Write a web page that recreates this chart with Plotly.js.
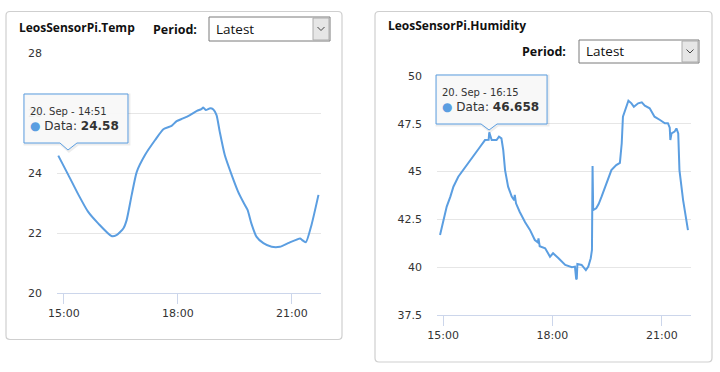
<!DOCTYPE html>
<html>
<head>
<meta charset="utf-8">
<script src="https://cdn.plot.ly/plotly-3.0.1.min.js"></script>
<style>
  html, body { margin: 0; padding: 0; background: #ffffff; }
  #chart { width: 720px; height: 372px; }
</style>
</head>
<body>
<div id="chart"></div>
<script>
// ---- Data ----
const day = '2023-09-20 ';

const tempTitle = 'LeosSensorPi.Temp';
const tempTimes = ['14:51','15:07','15:23','15:38','15:54','16:15','16:23','16:34','16:39','16:47',
  '16:55','17:08','17:24','17:37','17:50','17:58','18:08','18:19','18:30','18:37',
  '18:40','18:44','18:51','18:56','19:01','19:06','19:14','19:25','19:35','19:43',
  '19:50','19:56','20:04','20:15','20:28','20:41','20:54','21:13','21:16','21:22',
  '21:31','21:42'];
const tempValues = [24.58,23.93,23.27,22.71,22.32,21.9,21.93,22.16,22.43,23.27,
  24.04,24.6,25.1,25.46,25.57,25.73,25.82,25.93,26.07,26.13,
  26.18,26.1,26.16,26.12,25.93,25.38,24.6,23.93,23.38,23.04,
  22.77,22.32,21.88,21.66,21.54,21.54,21.66,21.82,21.77,21.69,
  22.27,23.27];
const tempTicks = [20, 22, 24, 26, 28];

const humTitle = 'LeosSensorPi.Humidity';
const humTimes = ['14:55','14:58','15:00','15:06','15:12','15:17','15:25','15:31','15:39','15:44',
  '15:53','16:01','16:09','16:15','16:16','16:20','16:28','16:32','16:36','16:39',
  '16:42','16:47','16:53','16:57','16:58','17:00','17:06','17:15','17:23','17:31',
  '17:36','17:37','17:39','17:48','17:56','18:01','18:10','18:21','18:32','18:37',
  '18:39','18:40','18:41','18:48','18:55','18:59','19:03','19:05','19:06','19:07',
  '19:12','19:16','19:21','19:26','19:32','19:37','19:45','19:51','19:54','19:56',
  '20:05','20:10','20:14','20:21','20:27','20:32','20:40','20:48','20:57','21:05',
  '21:10','21:13','21:14','21:16','21:21','21:24','21:27','21:29','21:35','21:43'];
const humValues = [41.68,42.12,42.38,43.17,43.69,44.21,44.73,45.0,45.35,45.6,
  45.96,46.3,46.65,46.658,47.05,46.65,46.65,46.83,46.74,46.13,
  45.08,44.21,43.69,43.5,43.78,43.34,42.9,42.35,41.95,41.42,
  41.3,41.51,41.1,40.99,40.55,40.73,40.47,40.12,40.0,40.03,
  39.4,39.37,40.17,40.12,39.85,40.03,40.47,40.9,45.29,42.99,
  43.08,43.3,43.7,44.13,44.65,45.08,45.34,45.46,46.48,47.87,
  48.71,48.57,48.39,48.57,48.62,48.45,48.31,47.87,47.7,47.53,
  47.53,47.3,46.65,47.0,47.09,47.26,47.0,45.08,43.51,41.94];
const humTicks = [37.5, 40, 42.5, 45, 47.5, 50];

const xTicks = ['15:00', '18:00', '21:00'];
const periodLabel = 'Period:';
const periodValue = 'Latest';

// tooltips: index of the hovered point in each series
const tempTipIndex = 0;
const humTipIndex = 13;
const tipHeader = '20. Sep - ';
const seriesName = 'Data';

// ---- Styling helpers ----
const W = 720, H = 372;
const px = v => v / W;
const py = v => 1 - v / H;
const lineColor = '#5b9ee1';
const font = 'DejaVu Sans, sans-serif';
const titleFont = 'Open Sans, DejaVu Sans, sans-serif';

function roundRect(x0, y0, x1, y1, r) {
  const X = px, Y = py;
  return `M ${X(x0 + r)} ${Y(y0)} L ${X(x1 - r)} ${Y(y0)} Q ${X(x1)} ${Y(y0)} ${X(x1)} ${Y(y0 + r)} ` +
    `L ${X(x1)} ${Y(y1 - r)} Q ${X(x1)} ${Y(y1)} ${X(x1 - r)} ${Y(y1)} ` +
    `L ${X(x0 + r)} ${Y(y1)} Q ${X(x0)} ${Y(y1)} ${X(x0)} ${Y(y1 - r)} ` +
    `L ${X(x0)} ${Y(y0 + r)} Q ${X(x0)} ${Y(y0)} ${X(x0 + r)} ${Y(y0)} Z`;
}

const shapes = [];
const annotations = [];

// Panels
shapes.push({type: 'path', xref: 'paper', yref: 'paper', path: roundRect(6, 11.5, 342, 339.5, 4),
  line: {color: '#cfcfcf', width: 1.2}, fillcolor: 'rgba(0,0,0,0)', layer: 'below'});
shapes.push({type: 'path', xref: 'paper', yref: 'paper', path: roundRect(375, 11.5, 712, 362, 4),
  line: {color: '#cfcfcf', width: 1.2}, fillcolor: 'rgba(0,0,0,0)', layer: 'below'});

// Titles
annotations.push({xref: 'paper', yref: 'paper', x: px(17), y: py(27), xanchor: 'left', yanchor: 'middle',
  text: '<b>' + tempTitle + '</b>', showarrow: false, font: {family: titleFont, size: 12, color: '#111'}});
annotations.push({xref: 'paper', yref: 'paper', x: px(386), y: py(26), xanchor: 'left', yanchor: 'middle',
  text: '<b>' + humTitle + '</b>', showarrow: false, font: {family: titleFont, size: 12, color: '#111'}});

// Period selectors
function selector(labelRight, labelY, bx0, by0, bx1, by1) {
  annotations.push({xref: 'paper', yref: 'paper', x: px(labelRight), y: py(labelY), xanchor: 'right', yanchor: 'middle',
    text: '<b>' + periodLabel + '</b>', showarrow: false, font: {family: titleFont, size: 12.5, color: '#111'}});
  shapes.push({type: 'rect', xref: 'paper', yref: 'paper', x0: px(bx0), x1: px(bx1), y0: py(by1), y1: py(by0),
    fillcolor: '#ffffff', line: {color: '#7a7a7a', width: 1}});
  shapes.push({type: 'rect', xref: 'paper', yref: 'paper', x0: px(bx1 - 17), x1: px(bx1 - 1), y0: py(by1 - 1), y1: py(by0 + 1),
    fillcolor: '#e6e6e6', line: {color: '#acacac', width: 1}});
  const cx = bx1 - 9, cy = (by0 + by1) / 2;
  shapes.push({type: 'path', xref: 'paper', yref: 'paper',
    path: `M ${px(cx - 3.5)} ${py(cy - 2)} L ${px(cx)} ${py(cy + 1.5)} L ${px(cx + 3.5)} ${py(cy - 2)}`,
    line: {color: '#444', width: 1}});
  annotations.push({xref: 'paper', yref: 'paper', x: px(bx0 + 5), y: py(cy), xanchor: 'left', yanchor: 'middle',
    text: periodValue, showarrow: false, font: {family: titleFont, size: 13.5, color: '#111'}});
}
selector(199, 29, 209, 17, 330, 41);
selector(568, 52, 579, 40, 699, 63);

// Tooltip definitions (pixel offsets relative to the hovered point, y up)
const tips = [
  {xa: 'xaxis', ya: 'yaxis', xr: 'x', yr: 'y', t: tempTimes[tempTipIndex], v: tempValues[tempTipIndex],
   box: [-34.3, 69.7, 61.6, 12.6, 1.7, 18.7, 9.7, 5.6]},
  {xa: 'xaxis2', ya: 'yaxis2', xr: 'x2', yr: 'y2', t: humTimes[humTipIndex], v: humValues[humTipIndex],
   box: [-52.6, 58.4, 64.9, 15.9, -7.6, 8.4, 0.4, 9.9]}
];

tips.forEach(tp => {
  const l = tp.box[0], top = tp.box[2];
  annotations.push({xref: tp.xr, yref: tp.yr, x: day + tp.t, y: tp.v, xanchor: 'left', yanchor: 'middle',
    xshift: l + 4, yshift: top - 17, showarrow: false, text: tipHeader + tp.t,
    font: {family: font, size: 10, color: '#333'}});
  annotations.push({xref: tp.xr, yref: tp.yr, x: day + tp.t, y: tp.v, xanchor: 'left', yanchor: 'middle',
    xshift: l + 4, yshift: top - 32, showarrow: false,
    text: '<span style="color:' + lineColor + '">●</span> ' + seriesName + ': <b>' + String(tp.v) + '</b>',
    font: {family: font, size: 12, color: '#333'}});
});

const traces = [
  {type: 'scatter', mode: 'lines', x: tempTimes.map(t => day + t), y: tempValues, xaxis: 'x', yaxis: 'y',
    line: {color: lineColor, width: 2, shape: 'spline', smoothing: 0.6}, hoverinfo: 'skip'},
  {type: 'scatter', mode: 'lines', x: humTimes.map(t => day + t), y: humValues, xaxis: 'x2', yaxis: 'y2',
    line: {color: lineColor, width: 2}, hoverinfo: 'skip'}
];

function xAxis(domain, r0, r1, anchor) {
  return {domain: domain, type: 'date', range: [day + r0, day + r1], anchor: anchor,
    tickmode: 'array', tickvals: xTicks.map(t => day + t), ticktext: xTicks,
    ticks: 'outside', ticklen: 10, tickcolor: '#ccd6eb', tickwidth: 1,
    showline: true, linecolor: '#ccd6eb', linewidth: 1, showgrid: false, zeroline: false,
    tickfont: {family: font, size: 11, color: '#333'}, fixedrange: true};
}
function yAxis(domain, range, ticks, anchor) {
  return {domain: domain, range: range, anchor: anchor, tickmode: 'array', tickvals: ticks,
    ticktext: ticks.map(String), showgrid: true, gridcolor: '#e6e6e6', gridwidth: 1,
    zeroline: false, showline: false, ticks: '', ticklabelstandoff: 14,
    tickfont: {family: font, size: 11, color: '#333'}, fixedrange: true};
}

const layout = {
  width: W, height: H, margin: {l: 0, r: 0, t: 0, b: 0},
  paper_bgcolor: '#ffffff', plot_bgcolor: 'rgba(0,0,0,0)',
  showlegend: false, hovermode: false,
  xaxis: xAxis([px(57), px(321)], '14:49', '21:46', 'y'),
  yaxis: yAxis([py(293), py(53)], [20, 28], tempTicks, 'x'),
  xaxis2: xAxis([px(437), px(691)], '14:50', '21:48', 'y2'),
  yaxis2: yAxis([py(315), py(76)], [37.5, 50], humTicks, 'x2'),
  shapes: shapes,
  annotations: annotations
};

Plotly.newPlot('chart', traces, layout, {displayModeBar: false, staticPlot: true}).then(gd => {
  const fl = gd._fullLayout;
  const extra = [];
  tips.forEach(tp => {
    const ax = fl[tp.xa], ay = fl[tp.ya];
    const cx = ax._offset + ax.l2p(ax.d2l(day + tp.t));
    const cy = ay._offset + ay.l2p(ay.d2l(tp.v));
    const P = (dx, dy, o) => `${px(cx + dx + o)} ${py(cy - dy + o)}`;
    const [l, r, top, bot, bl, br, tx, ty] = tp.box;
    const mk = o => `M ${P(l, top, o)} L ${P(r, top, o)} L ${P(r, bot, o)} L ${P(br, bot, o)} L ${P(tx, ty, o)} L ${P(bl, bot, o)} L ${P(l, bot, o)} Z`;
    extra.push({type: 'path', xref: 'paper', yref: 'paper', layer: 'above', path: mk(1),
      line: {color: 'rgba(0,0,0,0.07)', width: 3}, fillcolor: 'rgba(0,0,0,0)'});
    extra.push({type: 'path', xref: 'paper', yref: 'paper', layer: 'above', path: mk(0),
      line: {color: lineColor, width: 1}, fillcolor: 'rgba(247,247,247,0.93)'});
  });
  return Plotly.relayout(gd, {shapes: shapes.concat(extra)});
});
</script>
</body>
</html>
